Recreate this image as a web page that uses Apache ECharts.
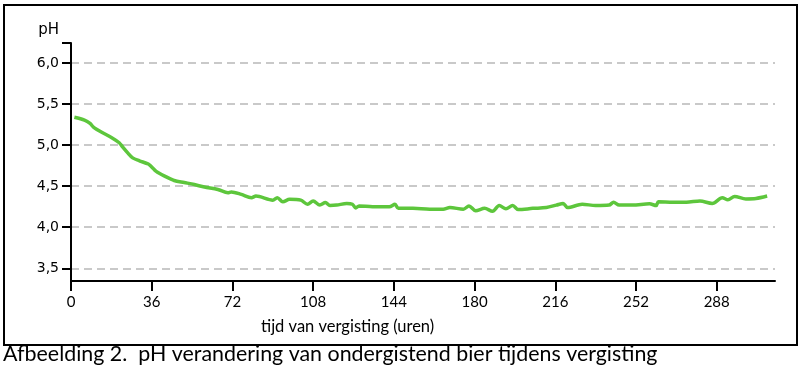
<!DOCTYPE html>
<html>
<head>
<meta charset="utf-8">
<script src="https://cdn.jsdelivr.net/npm/echarts@6/dist/echarts.min.js"></script>
<style>
  html, body { margin: 0; padding: 0; background: #fff; }
  #main { width: 800px; height: 378px; }
</style>
</head>
<body>
<div id="main"></div>
<script>
// tijd (uren) en pH
var uren = [1.5, 6, 8.5, 10, 13.5, 18, 21.5, 23, 25.5, 27.5, 30.5, 34.5, 36, 38, 42, 46, 50.5, 55, 59.5, 65.5,
  70, 71.5, 76, 80.5, 82.5, 90, 92, 94.5, 97.5, 102.5, 105.5, 108, 111, 113.5, 115.5, 118.5, 123, 125.5, 127, 128.5,
  134.5, 142, 144.5, 146, 152.5, 160, 166, 169, 175, 177.5, 180.5, 184.5, 188, 191, 194, 197, 199.5, 206, 212, 216.5,
  219.5, 221.5, 228, 234, 240, 242, 244.5, 250.5, 258, 261, 262, 268.5, 274.5, 280.5, 286, 290.5, 293, 296, 301, 305.5, 310.5];
var ph = [5.34, 5.305, 5.265, 5.22, 5.16, 5.095, 5.03, 4.98, 4.90, 4.845, 4.81, 4.77, 4.735, 4.68, 4.62, 4.57, 4.545, 4.52, 4.49, 4.46,
  4.42, 4.43, 4.40, 4.36, 4.38, 4.33, 4.36, 4.31, 4.34, 4.33, 4.28, 4.32, 4.27, 4.30, 4.265, 4.27, 4.29, 4.28, 4.235, 4.26,
  4.25, 4.25, 4.28, 4.23, 4.23, 4.22, 4.22, 4.24, 4.22, 4.26, 4.20, 4.23, 4.195, 4.265, 4.225, 4.265, 4.215, 4.23, 4.24, 4.27,
  4.29, 4.24, 4.28, 4.265, 4.27, 4.305, 4.27, 4.27, 4.285, 4.265, 4.31, 4.305, 4.305, 4.32, 4.29, 4.36, 4.335, 4.375, 4.345, 4.35, 4.38];

var xTicks = [0, 36, 72, 108, 144, 180, 216, 252, 288];
var yTicks = [3.5, 4.0, 4.5, 5.0, 5.5, 6.0];
var yTop = 6.245;
var yBottom = 3.345;

var punten = [];
for (var i = 0; i < uren.length; i++) {
  punten.push([uren[i], ph[i]]);
}

var myChart = echarts.init(document.getElementById('main'));
myChart.setOption({
  animation: false,
  grid: { left: 71, right: 25, top: 43, bottom: 97 },
  graphic: [
    {
      type: 'rect',
      shape: { x: 4, y: 5, width: 793, height: 340 },
      style: { fill: 'none', stroke: '#000', lineWidth: 2 }
    },
    {
      type: 'text', left: 261, top: 318,
      style: { text: 'tijd van vergisting (uren)', font: '16.5px Lato', fill: '#000' }
    },
    {
      type: 'text', left: 3, top: 344,
      style: { text: 'Afbeelding 2.  pH verandering van ondergistend bier tijdens vergisting', font: '21.4px Lato', fill: '#000' }
    }
  ],
  xAxis: {
    type: 'value',
    min: 0,
    max: 314,
    axisLine: { lineStyle: { color: '#000', width: 2 } },
    axisTick: { customValues: xTicks, length: 10, lineStyle: { color: '#000', width: 2 } },
    axisLabel: { customValues: xTicks, margin: 14, color: '#000', fontFamily: 'Lato', fontSize: 15 },
    splitLine: { show: false }
  },
  yAxis: {
    type: 'value',
    min: yBottom,
    max: yTop,
    name: 'pH',
    nameGap: 5,
    nameTextStyle: { color: '#000', fontFamily: 'DejaVu Sans', fontSize: 15, align: 'right', padding: [0, 12, 0, 0] },
    axisLine: { show: true, lineStyle: { color: '#000', width: 2 } },
    axisTick: { show: true, customValues: yTicks.concat([yTop]), length: 9, lineStyle: { color: '#000', width: 2 } },
    axisLabel: {
      customValues: yTicks, margin: 12, color: '#000', fontFamily: 'DejaVu Sans', fontSize: 14,
      formatter: function (v) { return v.toFixed(1).replace('.', ','); }
    },
    splitLine: {
      show: true,
      lineStyle: { color: ['#b8b8b8', '#b8b8b8', '#b8b8b8', '#b8b8b8', '#b8b8b8', '#b8b8b8', 'rgba(0,0,0,0)'], type: [8, 5], width: 1.5 }
    }
  },
  series: [{
    name: 'pH',
    type: 'line',
    data: punten,
    showSymbol: false,
    smooth: 0.3,
    lineStyle: { color: '#5dc63c', width: 3.5 }
  }]
});
</script>
</body>
</html>
